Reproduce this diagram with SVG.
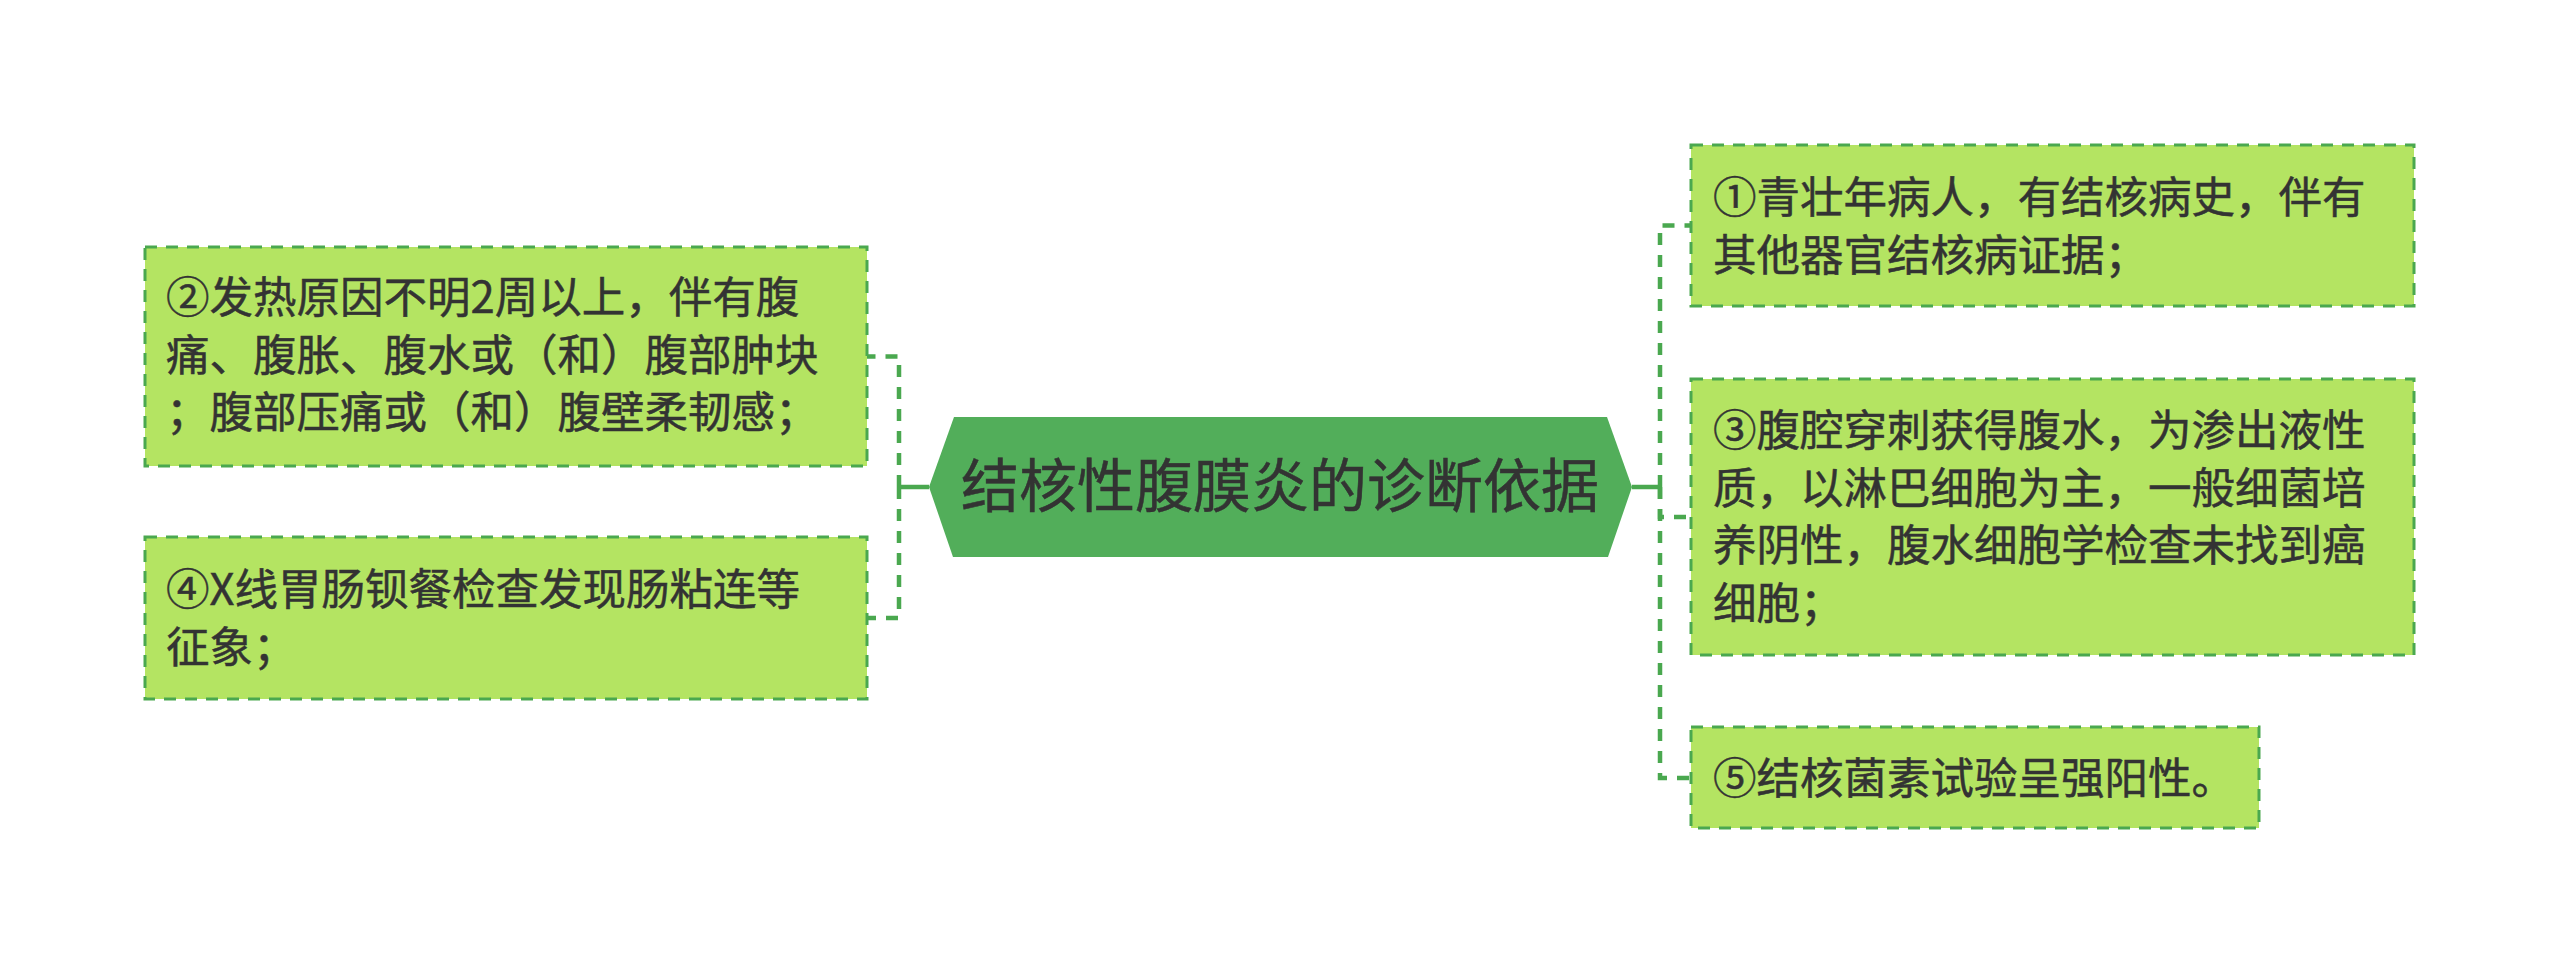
<svg xmlns="http://www.w3.org/2000/svg" width="2560" height="975" viewBox="0 0 2560 975">
<style>
.bg{fill:#ffffff}
.box{fill:#b4e462;stroke:#4aa84f;stroke-width:3;stroke-dasharray:12 9}
.hex{fill:#52ae5a}
.t{font-family:"Noto Sans CJK SC","Noto Sans",sans-serif;font-size:43.5px;fill:#333333;stroke:#333333;stroke-width:0.5}
.title{font-family:"Noto Sans CJK SC","Noto Sans",sans-serif;font-size:58px;fill:#333333;stroke:#333333;stroke-width:0.5}
.dash{fill:none;stroke:#4aa84f;stroke-width:4.5;stroke-dasharray:12 10}
.solid{fill:none;stroke:#4aa84f;stroke-width:4.5}
</style>
<rect class="bg" x="0" y="0" width="2560" height="975"/>
<g id="connectors">
  <path class="solid" d="M929 487 H899"/>
  <path class="dash" d="M899 487 V356.5 H867"/>
  <path class="dash" d="M899 487 V618 H867"/>
  <path class="solid" d="M1632 487 H1660"/>
  <path class="dash" d="M1660 487 V225.5 H1691"/>
  <path class="dash" d="M1660 487 V517 H1691"/>
  <path class="dash" d="M1660 487 V778 H1691"/>
</g>
<g id="root">
  <polygon class="hex" points="929,487 954,417 1607,417 1632,487 1608,557 953,557"/>
  <text class="title" x="1280" y="507" text-anchor="middle">结核性腹膜炎的诊断依据</text>
</g>
<g id="node2">
  <rect class="box" x="145" y="247" width="722" height="219"/>
  <text class="t" x="166" y="313">②发热原因不明2周以上，伴有腹</text>
  <text class="t" x="166" y="371">痛、腹胀、腹水或（和）腹部肿块</text>
  <text class="t" x="166" y="428">；腹部压痛或（和）腹壁柔韧感；</text>
</g>
<g id="node4">
  <rect class="box" x="145" y="537" width="722" height="162"/>
  <text class="t" x="166" y="605">④X线胃肠钡餐检查发现肠粘连等</text>
  <text class="t" x="166" y="663">征象；</text>
</g>
<g id="node1">
  <rect class="box" x="1691" y="145" width="723" height="161"/>
  <text class="t" x="1713" y="213">①青壮年病人，有结核病史，伴有</text>
  <text class="t" x="1713" y="271">其他器官结核病证据；</text>
</g>
<g id="node3">
  <rect class="box" x="1691" y="379" width="723" height="276"/>
  <text class="t" x="1713" y="446">③腹腔穿刺获得腹水，为渗出液性</text>
  <text class="t" x="1713" y="504">质，以淋巴细胞为主，一般细菌培</text>
  <text class="t" x="1713" y="561">养阴性，腹水细胞学检查未找到癌</text>
  <text class="t" x="1713" y="619">细胞；</text>
</g>
<g id="node5">
  <rect class="box" x="1691" y="727" width="568" height="101"/>
  <text class="t" x="1713" y="794">⑤结核菌素试验呈强阳性。</text>
</g>
</svg>
